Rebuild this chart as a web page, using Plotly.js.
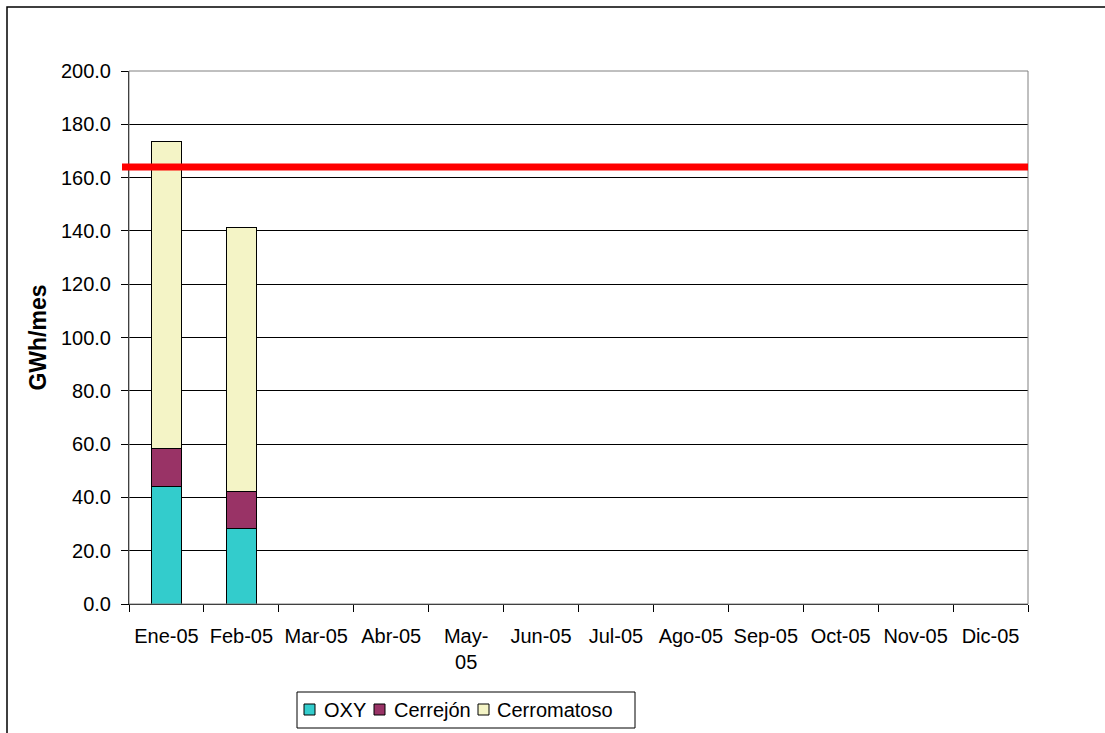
<!DOCTYPE html>
<html>
<head>
<meta charset="utf-8">
<script src="https://cdn.plot.ly/plotly-3.0.1.min.js"></script>
<style>html,body{margin:0;padding:0;background:#fff;}#chart{width:1105px;height:733px;}</style>
</head>
<body>
<div id="chart"></div>
<script>
var months = ["Ene-05","Feb-05","Mar-05","Abr-05","May-05","Jun-05","Jul-05","Ago-05","Sep-05","Oct-05","Nov-05","Dic-05"];
var monthLabels = ["Ene-05","Feb-05","Mar-05","Abr-05","May-<br>05","Jun-05","Jul-05","Ago-05","Sep-05","Oct-05","Nov-05","Dic-05"];
var oxy = [44.0, 28.2, null, null, null, null, null, null, null, null, null, null];
var cerrejon = [14.3, 13.9, null, null, null, null, null, null, null, null, null, null];
var cerromatoso = [115.4, 99.2, null, null, null, null, null, null, null, null, null, null];
var seriesNames = ["OXY", "Cerrejón", "Cerromatoso"];
var seriesColors = ["#33cccc", "#993366", "#f4f4c6"];
var limitValue = 164.0;
var yTicks = [0,20,40,60,80,100,120,140,160,180,200];
var yTickLabels = yTicks.map(function(v){return v.toFixed(1);});

var FONT = "Liberation Sans, Arial, sans-serif";
var font = {family: FONT, size: 20, color: "#000"};
var legendFont = {family: FONT, size: 20, color: "#000"};

// plot-area geometry (pixels)
var L = 129, R = 1028, T = 71, B = 604;
function px(x){ return (x - L) / (R - L); }
function py(y){ return (B - y) / (B - T); }

var seriesValues = [oxy, cerrejon, cerromatoso];
var traces = seriesValues.map(function(vals, i){
  return {type:"bar", name:seriesNames[i], x:months, y:vals,
          marker:{color:seriesColors[i], line:{color:"#000", width:1}}};
});

var shapes = [
  {type:"rect", xref:"paper", yref:"paper", x0:0, x1:1, y0:0, y1:1, line:{color:"#808080", width:1}, fillcolor:"rgba(0,0,0,0)", layer:"above"},
  {type:"line", xref:"paper", yref:"y", x0:px(122), x1:1, y0:limitValue, y1:limitValue, line:{color:"#ff0000", width:7}, layer:"above"},
  {type:"rect", xref:"paper", yref:"paper", x0:px(7), x1:px(1200), y0:py(800), y1:py(7), line:{color:"#000", width:1.5}, fillcolor:"rgba(0,0,0,0)", layer:"above"},
  // legend box
  {type:"rect", xref:"paper", yref:"paper", x0:px(297), x1:px(635), y0:py(728), y1:py(692), line:{color:"#000", width:1}, fillcolor:"#fff", layer:"above"}
];
var annotations = [];
var swatchX = [304, 374, 478];
var textX = [322, 392, 495];
for (var i = 0; i < seriesNames.length; i++) {
  shapes.push({type:"rect", xref:"paper", yref:"paper", x0:px(swatchX[i]), x1:px(swatchX[i]+11),
               y0:py(715), y1:py(704), line:{color:"#000", width:1}, fillcolor:seriesColors[i], layer:"above"});
  annotations.push({xref:"paper", yref:"paper", x:px(textX[i]), y:py(710), xanchor:"left", yanchor:"middle",
                    text:seriesNames[i], showarrow:false, font:legendFont});
}

var layout = {
  width:1105, height:733,
  margin:{l:L, r:1105-R, t:T, b:733-B},
  paper_bgcolor:"#fff", plot_bgcolor:"#fff",
  font: font,
  barmode:"stack",
  bargap:0.59,
  showlegend:false,
  xaxis:{type:"category", categoryorder:"array", categoryarray:months,
         tickvals:months, ticktext:monthLabels, tickson:"boundaries",
         ticks:"outside", ticklen:7, tickcolor:"#000", showline:true, linecolor:"#000", linewidth:1,
         showgrid:false, ticklabelstandoff:14, tickfont:font, fixedrange:true},
  yaxis:{range:[0,200], tickvals:yTicks, ticktext:yTickLabels, ticks:"outside", ticklen:7, tickcolor:"#000",
         showline:true, linecolor:"#000", linewidth:1, showgrid:true, gridcolor:"#000", gridwidth:1,
         zeroline:false, tickfont:font, ticklabelstandoff:6,
         title:{text:"<b>GWh/mes</b>", font:{family:FONT, size:23, color:"#000"}, standoff:7}},
  shapes: shapes,
  annotations: annotations
};

Plotly.newPlot("chart", traces, layout, {displayModeBar:false, staticPlot:true});
</script>
</body>
</html>
